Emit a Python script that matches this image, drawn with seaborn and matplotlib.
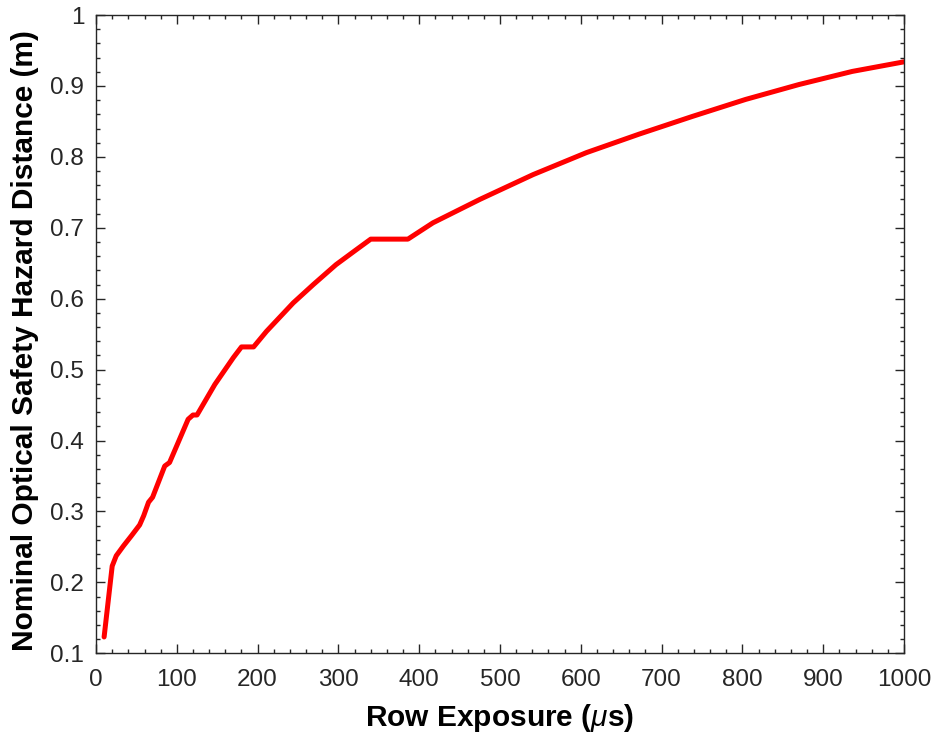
import matplotlib
matplotlib.use("Agg")
import matplotlib.pyplot as plt
from matplotlib.ticker import MultipleLocator, FormatStrFormatter
import seaborn as sns

# row exposure (us) and hazard distance (m)
exposure_us = [10, 20, 25, 34, 44, 54, 59, 65, 70, 85, 91, 114, 120, 125, 147,
               170, 180, 195, 211, 244, 269, 297, 322, 340, 386, 417, 475, 541,
               607, 672, 738, 804, 870, 936, 1000]
distance_m = [0.123, 0.223, 0.2375, 0.2515, 0.266, 0.281, 0.294, 0.313, 0.32,
              0.364, 0.369, 0.430, 0.436, 0.436, 0.479, 0.517, 0.532, 0.532,
              0.554, 0.594, 0.620, 0.648, 0.669, 0.684, 0.684, 0.707, 0.740,
              0.775, 0.806, 0.832, 0.857, 0.881, 0.902, 0.9205, 0.934]

x_ticks = list(range(0, 1001, 100))
y_ticks = [0.1, 0.2, 0.3, 0.4, 0.5, 0.6, 0.7, 0.8, 0.9, 1.0]

sns.set_theme(style="ticks")
plt.rcParams["font.family"] = ["Liberation Sans", "DejaVu Sans"]
plt.rcParams["mathtext.fontset"] = "custom"
plt.rcParams["mathtext.it"] = "Liberation Sans:italic"
plt.rcParams["mathtext.rm"] = "Liberation Sans"

fig = plt.figure(figsize=(9.36, 7.37), dpi=100)
ax = fig.add_axes([0.1026, 0.1136, 0.8632, 0.866])

sns.lineplot(x=exposure_us, y=distance_m, color="#ff0000", linewidth=3.6,
             sort=False, estimator=None, ax=ax)

ax.set_xlim(0, 1000)
ax.set_ylim(0.1, 1.0)
ax.set_xticks(x_ticks)
ax.set_yticks(y_ticks)
ax.yaxis.set_major_formatter(FormatStrFormatter("%g"))
ax.xaxis.set_minor_locator(MultipleLocator(20))
ax.yaxis.set_minor_locator(MultipleLocator(0.02))

ax.tick_params(which="both", direction="in", top=True, right=True,
               colors="#262626", width=1.0)
ax.tick_params(which="major", length=6.5, labelsize=17.5)
ax.tick_params(which="minor", length=3.2)
ax.tick_params(axis="y", which="major", pad=8.5)
ax.tick_params(axis="x", which="major", pad=11)
for side in ax.spines.values():
    side.set_color("#262626")
    side.set_linewidth(1.0)
    side.set_visible(True)

ax.set_xlabel(r"Row Exposure ($\mu$s)", fontsize=21.5, fontweight="bold",
              va="center", color="black")
ax.xaxis.set_label_coords(0.5, -0.101)
ax.set_ylabel("Nominal Optical Safety Hazard Distance (m)", fontsize=21.5,
              fontweight="bold", va="center", color="black")
ax.yaxis.set_label_coords(-0.0879, 0.49)

fig.savefig("out.png", dpi=100, facecolor="white")
